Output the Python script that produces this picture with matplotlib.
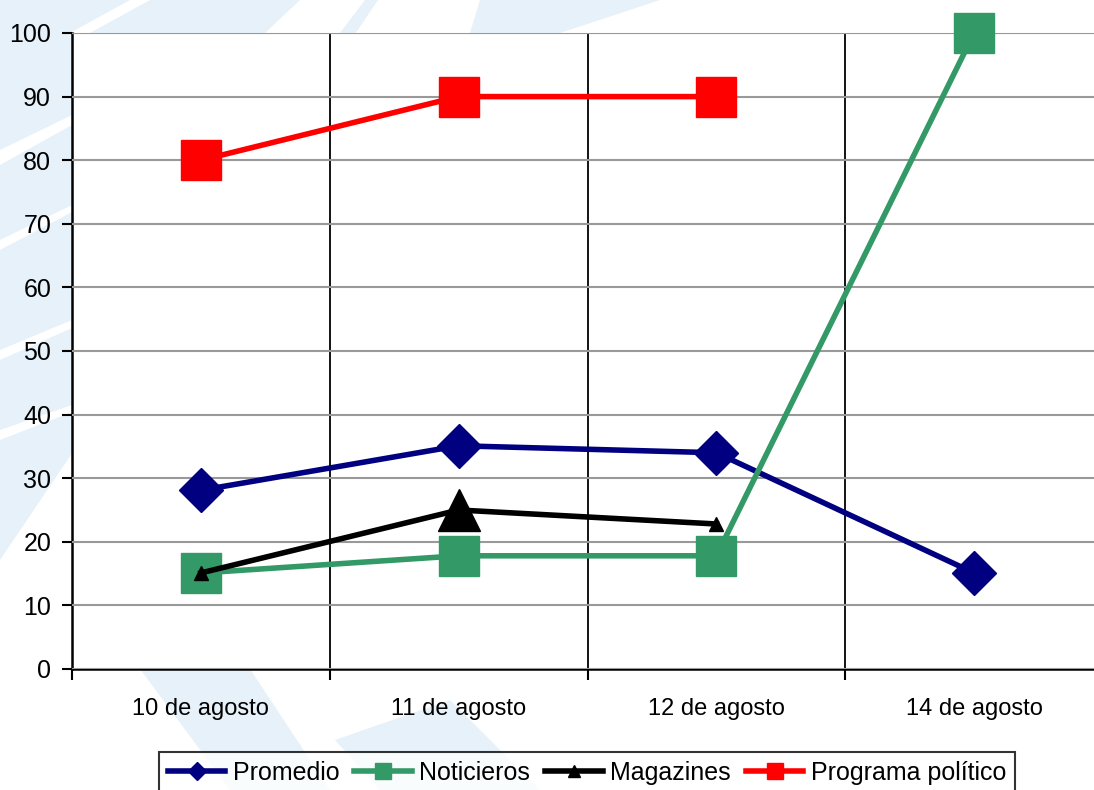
import matplotlib.pyplot as plt
from matplotlib.lines import Line2D
from matplotlib.patches import Polygon
import numpy as np

plt.rcParams['font.family'] = ['Liberation Sans', 'DejaVu Sans']

fechas = ['10 de agosto', '11 de agosto', '12 de agosto', '14 de agosto']
promedio = [28.1, 35.1, 34.0, 15.1]
noticieros = [15.1, 17.8, 17.8, 100.0]
magazines = [15.1, 25.0, 22.8, np.nan]
programa = [80.0, 90.0, 90.0, np.nan]

# tamaños de marcador por punto (como en la hoja original)
tam_magazines = [9.5, 30, 9.5]

AZUL = '#000080'
VERDE = '#339966'
ROJO = '#ff0000'
FONDO = '#e6f1f9'

W, H = 1094, 790
fig = plt.figure(figsize=(W / 100, H / 100), dpi=100)


def px(puntos):
    return [(x / W, 1 - y / H) for x, y in puntos]


# marca de agua de fondo
formas_azules = [
    [(0, 0), (378, 0), (0, 560)],
    [(480, 0), (660, 0), (560, 33), (470, 33)],
    [(140, 669), (250, 669), (330, 790), (230, 790)],
    [(335, 740), (450, 700), (540, 790), (380, 790)],
]
formas_blancas = [
    [(70, 33), (130, 0), (150, 0), (90, 33)],
    [(0, 150), (72, 115), (72, 125), (0, 165)],
    [(0, 240), (72, 205), (72, 212), (0, 250)],
    [(0, 350), (72, 320), (72, 328), (0, 360)],
    [(0, 430), (72, 405), (72, 412), (0, 440)],
    [(265, 33), (300, 0), (365, 0), (340, 33)],
]
for f in formas_azules:
    fig.patches.append(Polygon(px(f), closed=True, transform=fig.transFigure,
                               facecolor=FONDO, edgecolor='none', zorder=-2))
for f in formas_blancas:
    fig.patches.append(Polygon(px(f), closed=True, transform=fig.transFigure,
                               facecolor='white', edgecolor='none', zorder=-1))

ax = fig.add_axes([72 / W, 1 - 669 / H, (1103 - 72) / W, (669 - 33) / H])
ax.set_zorder(1)
ax.set_facecolor('white')

x = np.arange(len(fechas)) + 0.5

ax.plot(x, promedio, color=AZUL, lw=4, marker='D', ms=22, zorder=3, clip_on=False)
ax.plot(x, noticieros, color=VERDE, lw=4, marker='s', ms=29, zorder=4, clip_on=False)
ax.plot(x, magazines, color='black', lw=4, zorder=5)
for xi, yi, s in zip(x, magazines[:3], tam_magazines):
    ax.plot(xi, yi, marker='^', ms=s, color='black', zorder=5)
ax.plot(x, programa, color=ROJO, lw=4, marker='s', ms=29, zorder=6)

ax.set_xlim(0, 4)
ax.set_ylim(0, 100)
ax.set_yticks(range(0, 101, 10))
ax.set_xticks(range(0, 5))
ax.set_xticklabels([])
ax.set_xticks(x, minor=True)
ax.set_xticklabels(fechas, minor=True, fontsize=17)
ax.tick_params(axis='x', which='minor', length=0, pad=21)
ax.tick_params(axis='x', which='major', length=8, width=1.5, direction='out')
ax.tick_params(axis='y', length=7, width=1.5, labelsize=18, pad=8)

ax.grid(axis='y', color='#999999', lw=1.5, zorder=1)
for xv in [1, 2, 3]:
    ax.axvline(xv, color='black', lw=1.3, zorder=2)

ax.spines['right'].set_visible(False)
ax.spines['top'].set_color('#d9d9d9')
ax.spines['left'].set_linewidth(1.8)
ax.spines['bottom'].set_linewidth(1.8)
ax.set_axisbelow(False)

handles = [
    Line2D([], [], color=AZUL, lw=4, marker='D', ms=9),
    Line2D([], [], color=VERDE, lw=4, marker='s', ms=11),
    Line2D([], [], color='black', lw=4, marker='^', ms=9),
    Line2D([], [], color=ROJO, lw=4, marker='s', ms=11),
]
nombres = ['Promedio', 'Noticieros', 'Magazines', 'Programa político']
leg = fig.legend(handles, nombres, loc='upper center', ncol=4,
                 bbox_to_anchor=(587 / W, 1 - 752 / H), fontsize=18,
                 frameon=True, fancybox=False, edgecolor='black',
                 handlelength=2.3, handletextpad=0.3, columnspacing=0.6,
                 borderpad=0.35, borderaxespad=0)
leg.get_frame().set_linewidth(1.5)
leg.set_zorder(2)

fig.savefig('out.png', dpi=100)
